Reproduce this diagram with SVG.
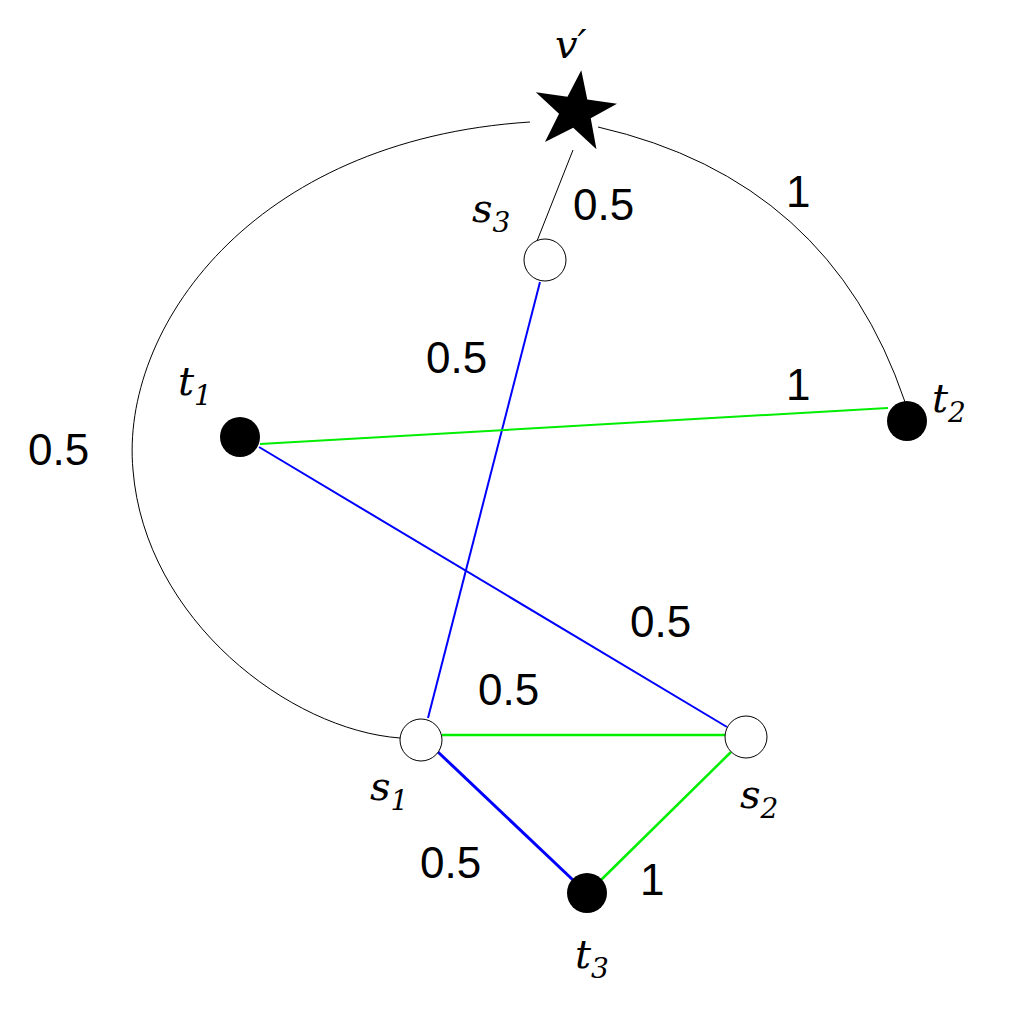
<svg xmlns="http://www.w3.org/2000/svg" width="1031" height="1031" viewBox="0 0 1031 1031">
<style>
.n{font-family:"Liberation Sans",Arial,sans-serif;font-size:44px;fill:#000}
.v{font-family:"DejaVu Serif","Liberation Serif",serif;font-style:italic;font-size:40px;fill:#000}
.sub{font-family:"DejaVu Serif","Liberation Serif",serif;font-size:28px}
.w{fill:#fff;stroke:#000;stroke-width:1}
.b{fill:#000}
</style>
<rect width="1031" height="1031" fill="#fff"/>
<g id="connectors" fill="none">
<path d="M530,122 C250,140 120,330 133,470 C145,620 290,730 400,738" stroke="#000" stroke-width="1"/>
<path d="M598,127 Q830,180 905,402" stroke="#000" stroke-width="1"/>
<line x1="573" y1="150" x2="537" y2="241" stroke="#000" stroke-width="1"/>
<line x1="540" y1="282" x2="428" y2="718" stroke="#00f" stroke-width="2"/>
<line x1="259" y1="447" x2="727" y2="727" stroke="#00f" stroke-width="2"/>
<line x1="260" y1="444" x2="888" y2="408" stroke="#0e0" stroke-width="2"/>
<line x1="442" y1="735" x2="725" y2="735" stroke="#0e0" stroke-width="2.5"/>
<line x1="438" y1="752" x2="573" y2="880" stroke="#00f" stroke-width="3"/>
<line x1="731" y1="752" x2="601" y2="880" stroke="#0e0" stroke-width="2.5"/>
</g>
<g id="vprime"><polygon class="b" points="576,70 586,98 616,98 592,116 602,146 576,128 550,146 560,116 534,98 566,98" transform="rotate(8 576 108)"/><text class="v" x="555" y="58">v′</text></g>
<g id="s3"><circle class="w" cx="545" cy="260" r="21"/><text class="v" x="472" y="222">s<tspan class="sub" dy="10">3</tspan></text></g>
<g id="t1"><circle class="b" cx="240" cy="437" r="20"/><text class="v" x="178" y="395">t<tspan class="sub" dy="10">1</tspan></text></g>
<g id="t2"><circle class="b" cx="907" cy="421" r="20"/><text class="v" x="932" y="412">t<tspan class="sub" dy="10">2</tspan></text></g>
<g id="s1"><circle class="w" cx="421" cy="740" r="21"/><text class="v" x="370" y="800">s<tspan class="sub" dy="10">1</tspan></text></g>
<g id="s2"><circle class="w" cx="746" cy="737" r="21"/><text class="v" x="740" y="808">s<tspan class="sub" dy="10">2</tspan></text></g>
<g id="t3"><circle class="b" cx="587" cy="893" r="20"/><text class="v" x="575" y="968">t<tspan class="sub" dy="10">3</tspan></text></g>
<g id="labels">
<text class="n" x="573" y="220">0.5</text>
<text class="n" x="786" y="207">1</text>
<text class="n" x="426" y="373">0.5</text>
<text class="n" x="786" y="400">1</text>
<text class="n" x="28" y="465">0.5</text>
<text class="n" x="630" y="637">0.5</text>
<text class="n" x="478" y="705">0.5</text>
<text class="n" x="420" y="878">0.5</text>
<text class="n" x="640" y="895">1</text>
</g>
</svg>
